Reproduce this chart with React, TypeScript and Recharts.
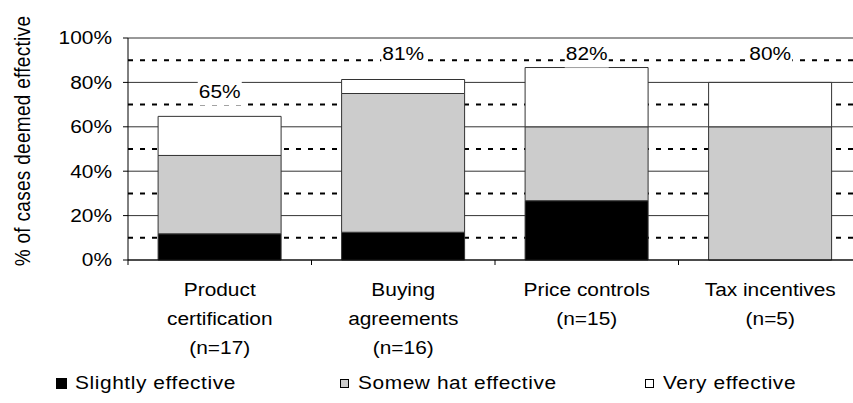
import React from "react";
import {
  ComposedChart,
  Bar,
  Line,
  XAxis,
  YAxis,
  CartesianGrid,
  Legend,
  LabelList,
} from "recharts";

const categories = [
  "Product certification (n=17)",
  "Buying agreements (n=16)",
  "Price controls (n=15)",
  "Tax incentives (n=5)",
];
const categoryLines = [
  ["Product", "certification", "(n=17)"],
  ["Buying", "agreements", "(n=16)"],
  ["Price controls", "(n=15)"],
  ["Tax incentives", "(n=5)"],
];
const slightlyValues = [11.8, 12.5, 26.7, 0];
const somewhatValues = [35.3, 62.5, 33.3, 60];
const veryValues = [17.6, 6.3, 26.7, 20];
const totalLabels = ["65%", "81%", "82%", "80%"];
const totalLabelLevels = [76, 93, 93, 93];
const yTicks = [0, 20, 40, 60, 80, 100];
const dottedLevels = [10, 30, 50, 70, 90];
const seriesNames = ["Slightly effective", "Somew hat effective", "Very effective"];
const seriesColors = ["#000000", "#cccccc", "#ffffff"];
const yTitle = "% of cases deemed effective";

const data = categories.map((c, i) => ({
  name: c,
  slightly: slightlyValues[i],
  somewhat: somewhatValues[i],
  very: veryValues[i],
  labelLevel: totalLabelLevels[i],
  labelText: totalLabels[i],
}));

const FONT = "'Liberation Sans', Arial, sans-serif";
const SX = 1.16;

const CategoryTick = (props: any) => {
  const { x, y, payload } = props;
  const idx = categories.indexOf(payload.value);
  const lines = categoryLines[idx] || [];
  const off = payload.offset || 0;
  return (
    <g>
      <line x1={x - off} x2={x - off} y1={y - 5} y2={y} stroke="#000" />
      {idx === categories.length - 1 && (
        <line x1={x + off} x2={x + off} y1={y - 5} y2={y} stroke="#000" />
      )}
      <g transform={`translate(${x},${y}) scale(${SX},1)`}>
        <text
          x={0}
          y={0}
          textAnchor="middle"
          fontSize={18}
          fontFamily={FONT}
          fill="#000"
        >
          {lines.map((l, i) => (
            <tspan key={i} x={0} dy={i === 0 ? 31 : 29}>
              {l}
            </tspan>
          ))}
        </text>
      </g>
    </g>
  );
};

const PercentTick = (props: any) => {
  const { x, y, payload } = props;
  return (
    <g transform={`translate(${x},${y}) scale(${SX},1)`}>
      <text
        x={0}
        y={0}
        dy="0.355em"
        textAnchor="end"
        fontSize={18}
        fontFamily={FONT}
        fill="#000"
      >
        {`${payload.value}%`}
      </text>
    </g>
  );
};

const TotalLabel = (props: any) => {
  const { x, y, value } = props;
  const w = 44;
  return (
    <g>
      <rect x={x - w / 2} y={y - 11} width={w} height={25} fill="#fff" />
      <g transform={`translate(${x},${y}) scale(${SX},1)`}>
        <text
          x={0}
          y={0}
          dy="0.355em"
          textAnchor="middle"
          fontSize={18}
          fontFamily={FONT}
          fill="#000"
        >
          {value}
        </text>
      </g>
    </g>
  );
};

const YTitle = (props: any) => {
  const vb = props.viewBox || {};
  const cx = 22;
  const cy = (vb.y || 0) + (vb.height || 0) / 2 - 8;
  return (
    <g transform={`translate(${cx},${cy}) rotate(-90) scale(1,${SX})`}>
      <text
        x={0}
        y={0}
        textAnchor="middle"
        dominantBaseline="central"
        fontSize={19}
        letterSpacing={0.3}
        fontFamily={FONT}
        fill="#000"
      >
        {yTitle}
      </text>
    </g>
  );
};

const legendLefts = [56, 340, 645];

const LegendContent = () => (
  <div style={{ position: "relative", width: 853, height: 26 }}>
    {seriesNames.map((n, i) => (
      <div
        key={n}
        style={{
          position: "absolute",
          left: legendLefts[i],
          top: 0,
          height: 26,
          display: "flex",
          alignItems: "center",
          fontFamily: FONT,
          fontSize: 18,
          color: "#000",
          whiteSpace: "nowrap",
        }}
      >
        <span
          style={{
            display: "inline-block",
            width: i === 0 ? 11 : 9,
            height: i === 0 ? 11 : 9,
            background: seriesColors[i],
            border: "1px solid #000",
            marginRight: i === 0 ? 8 : 9,
            boxSizing: "border-box",
          }}
        />
        <span
          style={{
            display: "inline-block",
            transform: `scaleX(${SX})`,
            transformOrigin: "left center",
            letterSpacing: 0.5,
          }}
        >
          {n}
        </span>
      </div>
    ))}
  </div>
);

export default function App() {
  return (
    <div
      style={{
        position: "fixed",
        left: 0,
        top: 0,
        width: 853,
        height: 403,
        overflow: "hidden",
        background: "#fff",
      }}
    >
      <ComposedChart
        width={882}
        height={403}
        data={data}
        margin={{ top: 38, right: 20, bottom: 0, left: 0 }}
        barCategoryGap="16.4%"
      >
        <CartesianGrid
          horizontal={true}
          vertical={false}
          stroke="#333"
          horizontalValues={yTicks}
        />
        <CartesianGrid
          horizontal={true}
          vertical={false}
          stroke="#000"
          strokeWidth={2}
          strokeDasharray="5 7"
          horizontalValues={dottedLevels}
        />
        <XAxis
          dataKey="name"
          height={143}
          tickLine={false}
          tickSize={5}
          tickMargin={0}
          axisLine={{ stroke: "#000" }}
          interval={0}
          tick={<CategoryTick />}
        />
        <YAxis
          width={128}
          domain={[0, 100]}
          ticks={yTicks}
          tickSize={5}
          tickMargin={11}
          axisLine={{ stroke: "#000" }}
          tickLine={{ stroke: "#000" }}
          tick={<PercentTick />}
          label={<YTitle />}
        />
        <Bar
          dataKey="slightly"
          name={seriesNames[0]}
          stackId="a"
          fill={seriesColors[0]}
          stroke="#333"
          isAnimationActive={false}
        />
        <Bar
          dataKey="somewhat"
          name={seriesNames[1]}
          stackId="a"
          fill={seriesColors[1]}
          stroke="#333"
          isAnimationActive={false}
        />
        <Bar
          dataKey="very"
          name={seriesNames[2]}
          stackId="a"
          fill={seriesColors[2]}
          stroke="#333"
          isAnimationActive={false}
        />
        <Line
          dataKey="labelLevel"
          stroke="none"
          dot={false}
          activeDot={false}
          legendType="none"
          isAnimationActive={false}
        >
          <LabelList dataKey="labelText" content={<TotalLabel />} />
        </Line>
        <Legend
          layout="horizontal"
          verticalAlign="middle"
          align="center"
          content={<LegendContent />}
          wrapperStyle={{ left: 0, top: 370, width: 853, height: 26 }}
        />
      </ComposedChart>
    </div>
  );
}
